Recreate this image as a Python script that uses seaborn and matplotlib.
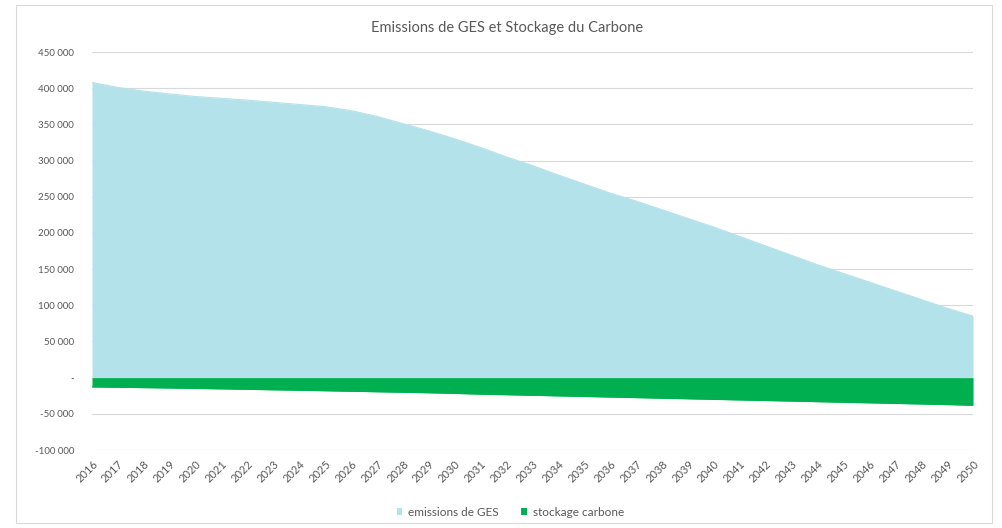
import matplotlib
matplotlib.use("Agg")
import matplotlib.pyplot as plt
import matplotlib.ticker as mticker
from matplotlib.patches import Patch, Rectangle
import numpy as np
import pandas as pd
import seaborn as sns

# Data
years = list(range(2016, 2051))
emissions_ges = [
    408000, 401000, 396000, 392000, 388500, 386000, 383500, 380500, 377500, 374500,
    369000, 361000, 351000, 341000, 330000, 318000, 305000, 293000, 280000, 267500,
    255000, 244000, 232000, 220000, 208000, 195000, 182000, 169000, 156000, 144000,
    132000, 120000, 108000, 96000, 85000,
]
stockage_carbone = [
    -12800, -13300, -13800, -14300, -14900, -15500, -16100, -16800, -17400, -18100,
    -18800, -19500, -20200, -20900, -21800, -22800, -23600, -24400, -25200, -26000,
    -26800, -27600, -28400, -29200, -30000, -30800, -31600, -32400, -33200, -34000,
    -34800, -35600, -36400, -37200, -38200,
]
y_ticks = [-100000, -50000, 0, 50000, 100000, 150000, 200000, 250000, 300000, 350000, 400000, 450000]
title = "Emissions de GES et Stockage du Carbone"
series_names = ["emissions de GES", "stockage carbone"]

df = pd.DataFrame({"annee": years, series_names[0]: emissions_ges, series_names[1]: stockage_carbone})

COL_GES = "#B4E2EA"
COL_STOCK = "#00B050"
GRID = "#D9D9D9"
TXT = "#595959"

sns.set_theme(style="white")
plt.rcParams["font.family"] = ["Lato", "DejaVu Sans"]

fig = plt.figure(figsize=(10.02, 5.28), dpi=100)
ax = fig.add_axes([0.0918, 0.1477, 0.8793, 0.7538])

for name, col in zip(series_names, [COL_GES, COL_STOCK]):
    sns.lineplot(data=df, x="annee", y=name, ax=ax, color=col, linewidth=0.8, legend=False)
    ax.fill_between(df["annee"], df[name], 0, color=col, linewidth=0, zorder=2)

ax.set_xlim(2016, 2050)
ax.set_ylim(-100000, 450000)
ax.set_yticks(y_ticks)


def fmt(v, pos=None):
    if v == 0:
        return "-"
    s = f"{abs(int(v)):,}".replace(",", " ")
    return ("-" if v < 0 else "") + s


ax.yaxis.set_major_formatter(mticker.FuncFormatter(fmt))
ax.set_xticks(years)
ax.set_xticklabels([str(y) for y in years], rotation=45, ha="right", rotation_mode="anchor")
ax.tick_params(axis="both", length=0, colors=TXT)
ax.tick_params(axis="y", labelsize=7, pad=13)
ax.tick_params(axis="x", labelsize=8, pad=6)
ax.grid(axis="y", color=GRID, linewidth=0.8)
ax.set_axisbelow(True)
for s in ax.spines.values():
    s.set_visible(False)
ax.set_xlabel("")
ax.set_ylabel("")

fig.text(0.506, 0.947, title, ha="center", va="center", fontsize=10.5, color=TXT)

handles = [Patch(facecolor=COL_GES, edgecolor="none"), Patch(facecolor=COL_STOCK, edgecolor="none")]
fig.legend(handles, series_names, loc="center", bbox_to_anchor=(0.5095, 0.03), ncol=2, frameon=False,
           fontsize=8.5, labelcolor=TXT, handlelength=0.5, handleheight=0.5, handletextpad=0.5,
           columnspacing=1.9)

fig.patches.append(Rectangle((16 / 1002, 5 / 528), (992 - 16) / 1002, (523 - 5) / 528,
                             transform=fig.transFigure, fill=False, edgecolor="#D9D9D9", linewidth=0.8))

fig.savefig("out.png", dpi=100)
